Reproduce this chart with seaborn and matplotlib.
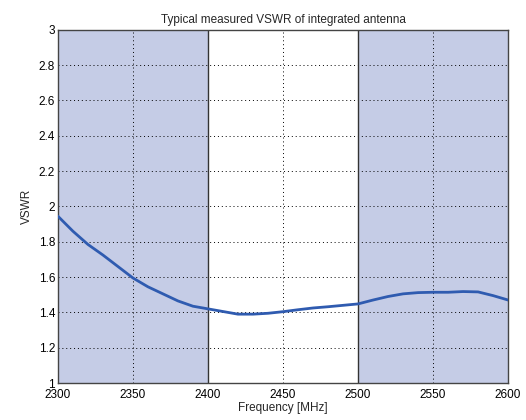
import numpy as np
import matplotlib
matplotlib.use("Agg")
import matplotlib.pyplot as plt
import seaborn as sns
import pandas as pd

# measured VSWR
freq = [2300, 2310, 2320, 2330, 2340, 2350, 2360, 2370, 2380, 2390, 2400,
        2410, 2420, 2430, 2440, 2450, 2460, 2470, 2480, 2490, 2500,
        2510, 2520, 2530, 2540, 2550, 2560, 2570, 2580, 2590, 2600]
vswr = [1.945, 1.86, 1.785, 1.725, 1.66, 1.595, 1.545, 1.505, 1.465, 1.435, 1.42,
        1.405, 1.39, 1.39, 1.395, 1.404, 1.415, 1.425, 1.432, 1.44, 1.448,
        1.47, 1.49, 1.505, 1.512, 1.514, 1.514, 1.518, 1.516, 1.495, 1.47]

bands = [(2300, 2400), (2500, 2600)]
xticks = [2300, 2350, 2400, 2450, 2500, 2550, 2600]
yticks = [1, 1.2, 1.4, 1.6, 1.8, 2, 2.2, 2.4, 2.6, 2.8, 3]

df = pd.DataFrame({"Frequency": freq, "VSWR": vswr})

sns.set_style("white")
plt.rcParams['font.family'] = ['Liberation Sans', 'DejaVu Sans']

fig = plt.figure(figsize=(5.26, 4.2), dpi=100)
ax = fig.add_axes([0.110, 0.088, 0.856, 0.841])

for lo, hi in bands:
    ax.axvspan(lo, hi, color="#c5cce6", lw=0, zorder=0)
for x in [2400, 2500]:
    ax.axvline(x, color="#333333", lw=1.0, zorder=1)

sns.lineplot(data=df, x="Frequency", y="VSWR", ax=ax, color="#2f5bb0", lw=2.0, zorder=3)

ax.set_xlim(2300, 2600)
ax.set_ylim(1, 3)
ax.set_xticks(xticks)
ax.set_yticks(yticks)
ax.set_xticklabels([str(t) for t in xticks])
ax.set_yticklabels([f"{t:g}" for t in yticks])
ax.grid(True, color="black", linestyle=(0, (1, 3)), lw=0.7)
ax.tick_params(direction="in", length=3, labelsize=8.5, colors="black")
ax.tick_params(axis="x", pad=4)
ax.tick_params(axis="y", pad=2)
for s in ax.spines.values():
    s.set_color("#444444")
    s.set_linewidth(1.0)

ax.set_xlabel("Frequency [MHz]", fontsize=8.5, labelpad=1)
ax.set_ylabel("VSWR", fontsize=8.5, labelpad=4)
ax.set_title("Typical measured VSWR of integrated antenna", fontsize=8.5, pad=5)

fig.savefig("out.png", dpi=100)
